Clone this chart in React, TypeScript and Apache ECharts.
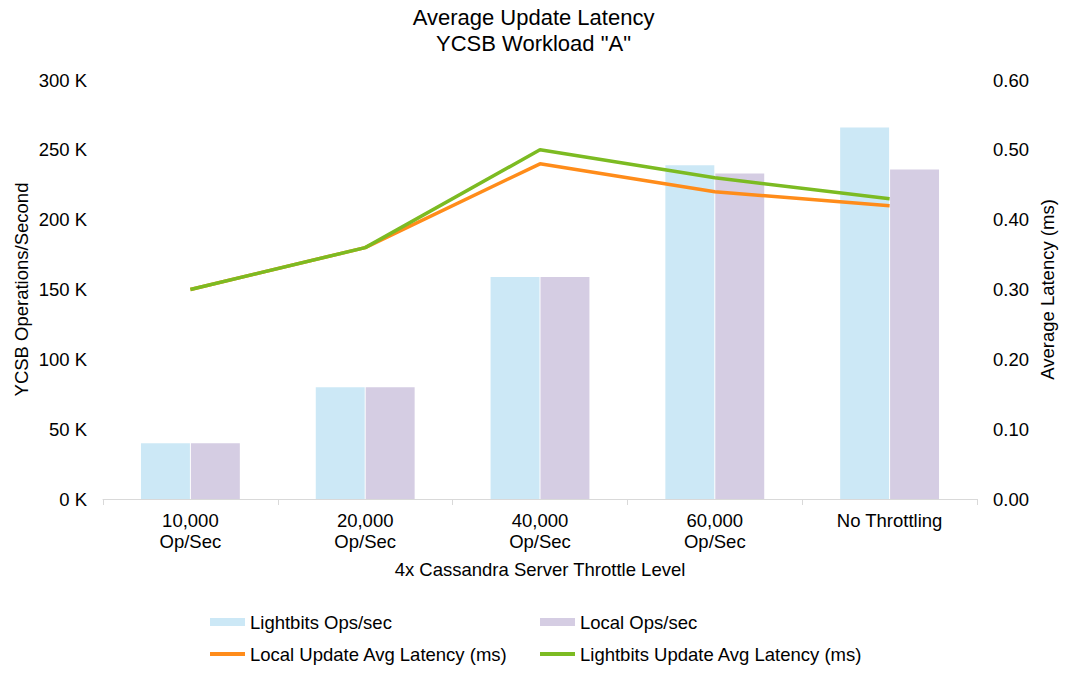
import React, { useEffect, useRef } from "react";
import * as echarts from "echarts";

const categories = ["10,000\nOp/Sec", "20,000\nOp/Sec", "40,000\nOp/Sec", "60,000\nOp/Sec", "No Throttling"];
const lightbitsOps = [40000, 80000, 159000, 239000, 266000];
const localOps = [40000, 80000, 159000, 233000, 236000];
const localLatency = [0.30, 0.36, 0.48, 0.44, 0.42];
const lightbitsLatency = [0.30, 0.36, 0.50, 0.46, 0.43];

const FONT = "'Liberation Sans', Arial, sans-serif";
const TXT = "#000000";
const FS = 18.5;

export default function App() {
  const ref = useRef<HTMLDivElement>(null);
  useEffect(() => {
    if (!ref.current) return;
    const chart = echarts.init(ref.current, undefined, { renderer: "svg" });
    const legendText = { fontFamily: FONT, fontSize: FS, color: TXT, lineHeight: 20 };
    chart.setOption({
      animation: false,
      backgroundColor: "#ffffff",
      textStyle: { fontFamily: FONT, color: TXT },
      title: {
        text: 'Average Update Latency\nYCSB Workload "A"',
        left: "center",
        top: 4,
        padding: 0,
        textStyle: { fontFamily: FONT, fontSize: 22, fontWeight: "normal", color: TXT, lineHeight: 26 },
      },
      legend: [
        {
          orient: "vertical",
          left: 208,
          top: 612,
          padding: 0,
          itemWidth: 35,
          itemHeight: 8,
          itemGap: 12,
          textStyle: legendText,
          data: [
            { name: "Lightbits Ops/sec", icon: "rect" },
            { name: "Local Update Avg Latency (ms)", lineStyle: { width: 4 }, itemStyle: { opacity: 0 } },
          ],
        },
        {
          orient: "vertical",
          left: 538,
          top: 612,
          padding: 0,
          itemWidth: 35,
          itemHeight: 8,
          itemGap: 12,
          textStyle: legendText,
          data: [
            { name: "Local Ops/sec", icon: "rect" },
            { name: "Lightbits Update Avg Latency (ms)", lineStyle: { width: 4 }, itemStyle: { opacity: 0 } },
          ],
        },
      ],
      grid: {
        left: 103,
        right: 90,
        top: 80,
        bottom: 179,
        containLabel: false,
        outerBoundsMode: "none",
      },
      xAxis: {
        type: "category",
        data: categories,
        name: "4x Cassandra Server Throttle Level",
        nameLocation: "middle",
        nameGap: 61,
        nameMoveOverlap: false,
        nameTextStyle: { fontFamily: FONT, fontSize: FS, color: TXT },
        axisLine: { lineStyle: { color: "#d9d9d9", width: 1 } },
        axisTick: { show: true, length: 6, lineStyle: { color: "#d9d9d9" } },
        axisLabel: { fontFamily: FONT, fontSize: FS, color: TXT, lineHeight: 21, margin: 11, interval: 0 },
      },
      yAxis: [
        {
          type: "value",
          min: 0,
          max: 300000,
          interval: 50000,
          name: "YCSB Operations/Second",
          nameLocation: "middle",
          nameRotate: 90,
          nameGap: 72,
          nameMoveOverlap: false,
          nameTextStyle: { fontFamily: FONT, fontSize: FS, color: TXT },
          axisLine: { show: false },
          axisTick: { show: false },
          splitLine: { show: false },
          axisLabel: {
            fontFamily: FONT,
            fontSize: FS,
            color: TXT,
            margin: 16,
            formatter: (v: number) => `${Math.round(v / 1000)} K`,
          },
        },
        {
          type: "value",
          min: 0,
          max: 0.6,
          interval: 0.1,
          position: "right",
          name: "Average Latency (ms)",
          nameLocation: "middle",
          nameRotate: 90,
          nameGap: 61,
          nameMoveOverlap: false,
          nameTextStyle: { fontFamily: FONT, fontSize: FS, color: TXT },
          axisLine: { show: false },
          axisTick: { show: false },
          splitLine: { show: false },
          axisLabel: {
            fontFamily: FONT,
            fontSize: FS,
            color: TXT,
            margin: 16,
            formatter: (v: number) => v.toFixed(2),
          },
        },
      ],
      series: [
        {
          name: "Lightbits Ops/sec",
          type: "bar",
          yAxisIndex: 0,
          data: lightbitsOps,
          barWidth: "28%",
          barGap: "2%",
          itemStyle: { color: "#cce8f6" },
        },
        {
          name: "Local Ops/sec",
          type: "bar",
          yAxisIndex: 0,
          data: localOps,
          barWidth: "28%",
          barGap: "2%",
          itemStyle: { color: "#d5cde3" },
        },
        {
          name: "Local Update Avg Latency (ms)",
          type: "line",
          yAxisIndex: 1,
          data: localLatency,
          symbol: "none",
          lineStyle: { color: "#ff8c1a", width: 3.5 },
          itemStyle: { color: "#ff8c1a" },
        },
        {
          name: "Lightbits Update Avg Latency (ms)",
          type: "line",
          yAxisIndex: 1,
          data: lightbitsLatency,
          symbol: "none",
          lineStyle: { color: "#7cbb22", width: 3.5 },
          itemStyle: { color: "#7cbb22" },
        },
      ],
    });
    return () => chart.dispose();
  }, []);
  return (
    <div
      ref={ref}
      style={{ position: "fixed", left: 0, top: 0, width: 1067, height: 678, background: "#fff" }}
    />
  );
}
